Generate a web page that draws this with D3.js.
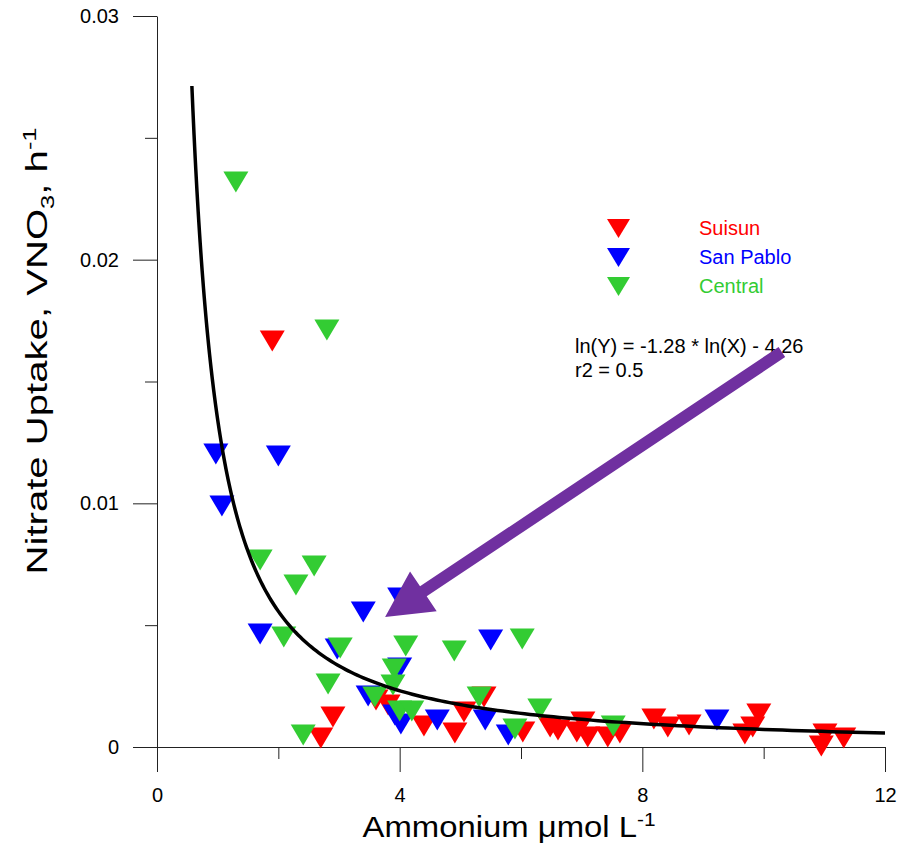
<!DOCTYPE html>
<html>
<head>
<meta charset="utf-8">
<script src="https://cdn.jsdelivr.net/npm/d3@7"></script>
<style>
  body { margin: 0; background: #fff; }
  svg text { font-family: "Liberation Sans", Arial, sans-serif; fill: #000; }
</style>
</head>
<body>
<div id="chart"></div>
<script>
/* data: ammonium (x) vs nitrate uptake (y) */
var suisunX = [1.90, 2.90, 2.70, 3.61, 3.81, 4.40, 4.91, 5.06, 5.39, 6.03, 6.48, 6.61, 6.92, 7.10, 7.02, 7.43, 7.63, 8.19, 8.42, 8.77, 9.92, 9.82, 9.69, 10.95, 11.01, 11.32];
var suisunY = [0.01666, 0.00123, 0.00037, 0.00193, 0.00172, 0.00086, 0.00057, 0.00144, 0.00205, 0.00062, 0.00082, 0.00070, 0.00062, 0.00041, 0.00103, 0.00041, 0.00057, 0.00115, 0.00082, 0.00090, 0.00135, 0.00082, 0.00053, 0.00004, 0.00053, 0.00037];
var sanPabloX = [0.97, 2.00, 1.07, 1.70, 2.97, 3.40, 4.00, 4.00, 3.48, 3.92, 4.02, 4.62, 5.41, 5.50, 5.79, 9.23];
var sanPabloY = [0.01202, 0.01194, 0.00989, 0.00464, 0.00402, 0.00554, 0.00612, 0.00324, 0.00209, 0.00131, 0.00094, 0.00111, 0.00111, 0.00439, 0.00049, 0.00111];
var centralX = [1.30, 2.80, 1.70, 2.59, 2.29, 2.09, 3.02, 2.82, 2.41, 4.10, 4.90, 6.02, 3.91, 3.89, 3.59, 4.00, 4.20, 5.31, 5.90, 6.31, 7.52];
var centralY = [0.02319, 0.01711, 0.00767, 0.00743, 0.00665, 0.00451, 0.00406, 0.00259, 0.00049, 0.00415, 0.00394, 0.00443, 0.00320, 0.00254, 0.00205, 0.00148, 0.00148, 0.00205, 0.00074, 0.00156, 0.00086];

var seriesNames = ["Suisun", "San Pablo", "Central"];
var seriesColors = ["#ff0000", "#0000ff", "#33cc33"];

var xTicks = [0, 4, 8, 12], xMinor = [2, 6, 10];
var yTicks = [0, 0.01, 0.02, 0.03], yMinor = [0.005, 0.015, 0.025];

/* power fit drawn on the chart, ln(Y) = b*ln(X) + lnA */
var fitLnA = -4.31, fitSlope = -1.27, fitFrom = 0.575, fitTo = 12;
var fitText = ["ln(Y) = -1.28 * ln(X) - 4.26", "r2 = 0.5"];

/* arrow annotation: tail and tip in data units */
var arrowTail = [10.30, 0.01621], arrowTip = [3.76, 0.00534];

var W = 908, H = 846;
var margin = {top: 16, left: 157, right: 23, bottom: 99};
var svg = d3.select("#chart").append("svg").attr("width", W).attr("height", H);

var x = d3.scaleLinear().domain([0, 12]).range([margin.left, W - margin.right]);
var y = d3.scaleLinear().domain([0, 0.03]).range([H - margin.bottom, margin.top]);

/* axes */
svg.append("g").attr("transform", "translate(" + margin.left + ",0)")
  .call(d3.axisLeft(y).tickValues(yTicks).tickSizeInner(24).tickSizeOuter(0).tickPadding(14)
    .tickFormat(function(d) { return d === 0 ? "0" : d3.format(".2f")(d); }));
svg.append("g").attr("transform", "translate(" + margin.left + ",0)")
  .call(d3.axisLeft(y).tickValues(yMinor).tickSize(12).tickFormat(""))
  .select(".domain").remove();

svg.append("g").attr("transform", "translate(0," + y(0) + ")")
  .call(d3.axisBottom(x).tickValues(xTicks).tickSizeInner(25).tickSizeOuter(0).tickPadding(16));
svg.append("g").attr("transform", "translate(0," + y(0) + ")")
  .call(d3.axisBottom(x).tickValues(xMinor).tickSize(12).tickFormat(""))
  .select(".domain").remove();

svg.selectAll(".tick text").attr("font-size", 20).attr("font-family", "Liberation Sans, Arial, sans-serif").attr("fill", "#000");
svg.selectAll(".domain, .tick line").attr("stroke", "#222").attr("stroke-width", 1);

/* axis titles */
var xt = svg.append("text").attr("x", 509).attr("y", 837).attr("text-anchor", "middle")
  .attr("font-size", 30).attr("textLength", 293).attr("lengthAdjust", "spacingAndGlyphs");
xt.append("tspan").text("Ammonium \u03bcmol L");
xt.append("tspan").attr("font-size", 19).attr("dy", -11).text("-1");

var yt = svg.append("text").attr("transform", "translate(47,351) rotate(-90)").attr("text-anchor", "middle")
  .attr("font-size", 30).attr("textLength", 447).attr("lengthAdjust", "spacingAndGlyphs");
yt.append("tspan").text("Nitrate Uptake, VNO");
yt.append("tspan").attr("font-size", 19).attr("dy", 7).text("3");
yt.append("tspan").attr("dy", -7).text(", h");
yt.append("tspan").attr("font-size", 19).attr("dy", -11).text("-1");

/* triangle markers */
function tri(w, h) {
  return "M" + (-w / 2) + "," + (-h / 2) + "L" + (w / 2) + "," + (-h / 2) + "L0," + (h / 2) + "Z";
}
var series = [
  {xs: suisunX, ys: suisunY},
  {xs: sanPabloX, ys: sanPabloY},
  {xs: centralX, ys: centralY}
];
series.forEach(function(s, k) {
  var pts = s.xs.map(function(v, i) { return [v, s.ys[i]]; });
  svg.append("g").selectAll("path").data(pts).enter().append("path")
    .attr("d", tri(25, 21))
    .attr("transform", function(d) { return "translate(" + x(d[0]) + "," + y(d[1]) + ")"; })
    .attr("fill", seriesColors[k]);
});

/* fitted curve */
var fitPts = d3.range(0, 201).map(function(i) {
  var xv = fitFrom * Math.pow(fitTo / fitFrom, i / 200);
  return [xv, Math.exp(fitLnA + fitSlope * Math.log(xv))];
});
svg.append("path").datum(fitPts)
  .attr("d", d3.line().x(function(d) { return x(d[0]); }).y(function(d) { return y(d[1]); }))
  .attr("fill", "none").attr("stroke", "#000").attr("stroke-width", 3.5);

/* legend */
var leg = svg.append("g");
seriesNames.forEach(function(n, i) {
  leg.append("path").attr("d", tri(23, 19))
    .attr("transform", "translate(618.5," + (228.5 + i * 29) + ")")
    .attr("fill", seriesColors[i]);
  leg.append("text").attr("x", 699).attr("y", 235 + i * 29).attr("font-size", 20)
    .style("fill", seriesColors[i]).text(n);
});

/* regression text */
fitText.forEach(function(t, i) {
  svg.append("text").attr("x", 575).attr("y", 353 + i * 24).attr("font-size", 20).text(t);
});

/* purple arrow */
var tx = x(arrowTip[0]), ty = y(arrowTip[1]);
var sx = x(arrowTail[0]), sy = y(arrowTail[1]);
var ang = Math.atan2(ty - sy, tx - sx);
var headLen = 46, headHalf = 24, shaft = 6;
var bx = tx - headLen * Math.cos(ang), by = ty - headLen * Math.sin(ang);
var px = -Math.sin(ang), py = Math.cos(ang);
var arrowPts = [
  [sx + px * shaft, sy + py * shaft],
  [bx + px * shaft, by + py * shaft],
  [bx + px * headHalf, by + py * headHalf],
  [tx, ty],
  [bx - px * headHalf, by - py * headHalf],
  [bx - px * shaft, by - py * shaft],
  [sx - px * shaft, sy - py * shaft]
];
svg.append("path").attr("d", "M" + arrowPts.join("L") + "Z").attr("fill", "#7030a0");
</script>
</body>
</html>
